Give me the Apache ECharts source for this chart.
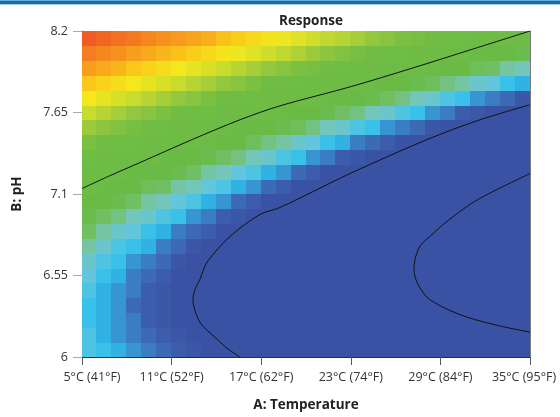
<!DOCTYPE html>
<html>
<head>
<meta charset="utf-8">
<script src="https://cdn.jsdelivr.net/npm/echarts@6/dist/echarts.min.js"></script>
<style>
html,body{margin:0;padding:0;background:#fff;}
#chart{width:560px;height:417px;}
</style>
</head>
<body>
<div id="chart"></div>
<script>
// ---- data ----
const tempCells = [5.5,6.5,7.5,8.5,9.5,10.5,11.5,12.5,13.5,14.5,15.5,16.5,17.5,18.5,19.5,20.5,21.5,22.5,23.5,24.5,25.5,26.5,27.5,28.5,29.5,30.5,31.5,32.5,33.5,34.5];
const phCells = [6.05,6.15,6.25,6.35,6.45,6.55,6.65,6.75,6.85,6.95,7.05,7.15,7.25,7.35,7.45,7.55,7.65,7.75,7.85,7.95,8.05,8.15];

const r605 = [41,40,39,38,37,36,35,34,33,32,31,30,30,29,28,27,27,26,25,25,24,23,23,22,22,22,21,21,20,20];
const r615 = [41,39,38,37,36,35,34,33,32,31,30,29,28,27,26,26,25,24,23,23,22,21,21,20,20,19,19,18,18,18];
const r625 = [40,39,38,37,35,34,33,32,31,30,29,28,27,26,25,24,24,23,22,21,21,20,19,19,18,17,17,16,16,16];
const r635 = [40,39,38,36,35,34,33,32,31,29,28,27,26,25,24,24,23,22,21,20,19,19,18,17,17,16,16,15,14,14];
const r645 = [41,39,38,37,35,34,33,32,31,29,28,27,26,25,24,23,22,21,20,20,19,18,17,16,16,15,14,14,13,13];
const r655 = [42,40,39,37,36,35,33,32,31,30,29,27,26,25,24,23,22,21,20,19,18,18,17,16,15,15,14,13,12,12];
const r665 = [43,41,40,38,37,36,34,33,32,31,29,28,27,26,25,24,23,22,21,20,19,18,17,16,15,14,14,13,12,11];
const r675 = [45,43,41,40,39,37,36,34,33,32,30,29,28,27,26,24,23,22,21,20,19,18,17,16,15,15,14,13,12,12];
const r685 = [47,45,43,42,40,39,37,36,35,33,32,31,29,28,27,26,24,23,22,21,20,19,18,17,16,15,14,14,13,12];
const r695 = [49,47,46,44,43,41,40,38,37,35,34,32,31,30,29,27,26,25,24,23,21,20,19,18,17,16,15,15,14,13];
const r705 = [52,50,49,47,45,44,42,41,39,38,36,35,33,32,31,29,28,27,26,24,23,22,21,20,19,18,17,16,15,14];
const r715 = [55,54,52,50,48,47,45,44,42,41,39,38,36,35,33,32,31,29,28,27,25,24,23,22,21,20,19,18,17,16];
const r725 = [59,57,56,54,52,50,49,47,45,44,42,41,39,38,36,35,33,32,31,29,28,27,26,24,23,22,21,20,19,18];
const r735 = [63,61,60,58,56,54,52,51,49,47,46,44,43,41,40,38,37,35,34,32,31,30,28,27,26,25,24,22,21,20];
const r745 = [68,66,64,62,60,58,57,55,53,51,50,48,46,45,43,42,40,39,37,36,35,33,32,30,29,28,27,26,24,23];
const r755 = [73,71,69,67,65,63,61,60,58,56,54,52,51,49,48,46,44,43,41,40,38,37,36,34,33,32,30,29,28,27];
const r765 = [78,76,74,72,70,68,66,65,63,61,59,57,56,54,52,50,49,47,46,44,43,41,40,38,37,35,34,33,32,30];
const r775 = [84,82,80,78,76,74,72,70,68,66,64,62,61,59,57,55,54,52,50,49,47,46,44,43,41,40,38,37,36,34];
const r785 = [90,88,86,84,82,80,78,76,74,72,70,68,66,64,63,61,59,57,56,54,52,51,49,48,46,45,43,42,40,39];
const r795 = [97,95,93,90,88,86,84,82,80,78,76,74,72,70,68,67,65,63,61,60,58,56,55,53,51,50,48,47,45,44];
const r805 = [104,102,100,97,95,93,91,89,87,85,83,81,79,77,75,73,71,69,67,65,64,62,60,59,57,55,54,52,51,49];
const r815 = [112,109,107,105,102,100,98,96,94,91,89,87,85,83,81,79,77,76,74,72,70,68,67,65,63,62,60,58,57,55];
const responseRows = [r605,r615,r625,r635,r645,r655,r665,r675,r685,r695,r705,r715,r725,r735,r745,r755,r765,r775,r785,r795,r805,r815];

// contour lines: [temperature, pH]
const contourUpper = [[5.00,7.137],[6.88,7.224],[8.88,7.312],[12.37,7.467],[15.58,7.601],[18.26,7.695],[22.95,7.823],[27.17,7.951],[30.98,8.072],[35.00,8.200]];
const contourMiddle = [[15.58,6.000],[14.78,6.054],[14.04,6.121],[12.90,6.235],[12.43,6.390],[12.57,6.457],[12.90,6.525],[13.37,6.639],[14.91,6.814],[16.92,6.962],[18.26,7.009],[22.95,7.238],[28.10,7.467],[31.65,7.601],[35.00,7.702]];
const contourInner = [[35.00,7.238],[32.79,7.130],[31.18,7.043],[29.44,6.915],[28.30,6.814],[27.63,6.747],[27.30,6.659],[27.23,6.592],[27.43,6.505],[28.10,6.404],[29.18,6.336],[30.78,6.269],[32.99,6.209],[35.00,6.168]];

const tempTicks = [5,11,17,23,29,35];
const tempTickLabels = ['5°C (41°F)','11°C (52°F)','17°C (62°F)','23°C (74°F)','29°C (84°F)','35°C (95°F)'];
const phTicks = [6,6.55,7.1,7.65,8.2];
const phTickLabels = ['6','6.55','7.1','7.65','8.2'];

// ---- style ----
const colorStops = [
  [33,'#3a52a3'],[35.5,'#3c60ae'],[37.5,'#3a86c8'],[39.5,'#2ec0ee'],[42,'#63c6dc'],
  [44.5,'#78c6b2'],[47,'#70bf62'],[50,'#69bb46'],[66,'#71bd44'],[72,'#93c73e'],
  [78,'#c9db2c'],[84,'#f4e81d'],[90,'#fac818'],[96,'#f8a31d'],[103,'#f4821f'],[112,'#f05a23']
];
function hex2rgb(h){return [parseInt(h.slice(1,3),16),parseInt(h.slice(3,5),16),parseInt(h.slice(5,7),16)];}
function colorFor(v){
  if(v<=colorStops[0][0]) return colorStops[0][1];
  for(let k=1;k<colorStops.length;k++){
    if(v<=colorStops[k][0]){
      const a=colorStops[k-1], b=colorStops[k];
      const t=(v-a[0])/(b[0]-a[0]);
      const ca=hex2rgb(a[1]), cb=hex2rgb(b[1]);
      const c=ca.map((x,i)=>Math.round(x+(cb[i]-x)*t));
      return 'rgb('+c.join(',')+')';
    }
  }
  return colorStops[colorStops.length-1][1];
}

const cellData = [];
responseRows.forEach((row,j)=>{ row.forEach((v,i)=>{ cellData.push([tempCells[i], phCells[j], v]); }); });
const halfT = (tempCells[1]-tempCells[0])/2;
const halfP = (phCells[1]-phCells[0])/2;

function tickIndex(val, ticks){
  for(let k=0;k<ticks.length;k++){ if(Math.abs(val-ticks[k])<1e-6) return k; }
  return -1;
}

const FONT = '"Open Sans", "DejaVu Sans", sans-serif';
const chart = echarts.init(document.getElementById('chart'), null, {renderer:'canvas'});
chart.setOption({
  animation:false,
  backgroundColor:'#fff',
  title:{text:'Response', left:306, top:9, textAlign:'center',
    textStyle:{fontFamily:FONT, fontSize:13.5, fontWeight:'bold', color:'#222'}},
  grid:{left:82, right:30, top:31, bottom:59, show:false},
  xAxis:[{
    type:'value', min:5, max:35, interval:6, position:'bottom',
    name:'A: Temperature', nameLocation:'middle', nameGap:41,
    nameTextStyle:{fontFamily:FONT, fontSize:13.5, fontWeight:'bold', color:'#222'},
    axisLine:{show:true, onZero:false, lineStyle:{color:'#2a2a3a', width:1}},
    axisTick:{show:true, length:8, lineStyle:{color:'#555'}},
    axisLabel:{margin:14, fontFamily:FONT, fontSize:12.5, color:'#333',
      formatter:(v)=>{
        const k=tickIndex(v,tempTicks);
        if(k<0) return '';
        if(k===0) return '{first|'+tempTickLabels[k]+'}';
        if(k===tempTicks.length-1) return '{last|'+tempTickLabels[k]+'}';
        return tempTickLabels[k];
      },
      rich:{
        first:{fontFamily:FONT, fontSize:12.5, color:'#333', padding:[0,0,0,20]},
        last:{fontFamily:FONT, fontSize:12.5, color:'#333', padding:[0,12,0,0]}
      }},
    splitLine:{show:false}
  },{
    type:'value', min:5, max:35, position:'top',
    axisLine:{show:true, onZero:false, lineStyle:{color:'#7a7a7a'}},
    axisTick:{show:false}, axisLabel:{show:false}, splitLine:{show:false}
  }],
  yAxis:[{
    type:'value', min:6, max:8.2, interval:0.55, position:'left',
    name:'B: pH', nameLocation:'middle', nameGap:58,
    nameTextStyle:{fontFamily:FONT, fontSize:13.5, fontWeight:'bold', color:'#222'},
    axisLine:{show:true, onZero:false, lineStyle:{color:'#888'}},
    axisTick:{show:true, length:9, lineStyle:{color:'#aaa'}},
    axisLabel:{margin:14, fontFamily:FONT, fontSize:12.5, color:'#333',
      formatter:(v)=>{ const k=tickIndex(v,phTicks); return k<0?'':phTickLabels[k]; }},
    splitLine:{show:false}
  },{
    type:'value', min:6, max:8.2, position:'right',
    axisLine:{show:true, onZero:false, lineStyle:{color:'#7a7a7a'}},
    axisTick:{show:false}, axisLabel:{show:false}, splitLine:{show:false}
  }],
  series:[{
    type:'custom', xAxisIndex:0, yAxisIndex:0, clip:true, z:1,
    data:cellData,
    renderItem:function(params, api){
      const t=api.value(0), p=api.value(1), v=api.value(2);
      const a=api.coord([t-halfT, p+halfP]);
      const b=api.coord([t+halfT, p-halfP]);
      const x0=Math.floor(a[0]), y0=Math.floor(a[1]);
      const x1=Math.ceil(b[0]), y1=Math.ceil(b[1]);
      return {type:'rect', shape:{x:x0, y:y0, width:x1-x0, height:y1-y0},
        style:{fill:colorFor(v)}};
    }
  },{
    type:'line', data:contourUpper, showSymbol:false, smooth:0.3, z:5,
    lineStyle:{color:'#111', width:1}
  },{
    type:'line', data:contourMiddle, showSymbol:false, smooth:0.3, z:5,
    lineStyle:{color:'#111', width:1}
  },{
    type:'line', data:contourInner, showSymbol:false, smooth:0.3, z:5,
    lineStyle:{color:'#111', width:1}
  }],
  graphic:[
    {type:'rect', shape:{x:0,y:0,width:560,height:1}, style:{fill:'#6aaed6'}},
    {type:'rect', shape:{x:0,y:1,width:560,height:3}, style:{fill:'#1b6ca5'}},
    {type:'rect', shape:{x:0,y:4,width:560,height:1}, style:{fill:'#a4cfe9'}}
  ]
});
</script>
</body>
</html>
